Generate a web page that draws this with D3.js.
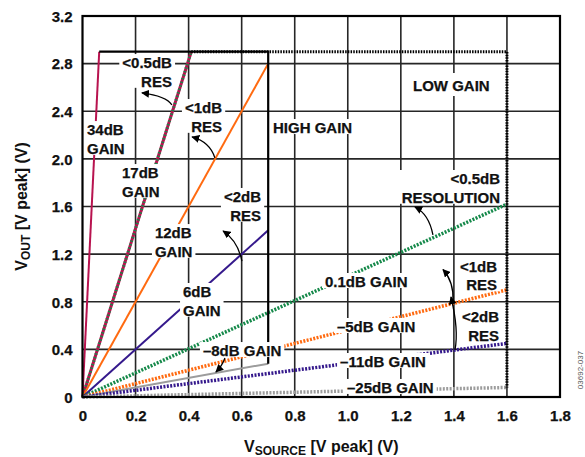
<!DOCTYPE html>
<html lang="en">
    <head>
        <meta charset="utf-8">
        <title>VOUT vs VSOURCE gain ranges</title>
        <script type="text/javascript" src="https://d3js.org/d3.v7.min.js"></script>
        <style type="text/css">
          body { margin: 0; background: #fff; }
          svg { width: 585px; height: 457px; font-family: "Liberation Sans", Arial, sans-serif; font-weight: bold; }
        </style>
    </head>
    <body>
      <svg></svg>

        <script type="text/javascript">

        // tick values
        const xTicks = [0, 0.2, 0.4, 0.6, 0.8, 1.0, 1.2, 1.4, 1.6, 1.8];
        const yTicks = [0, 0.4, 0.8, 1.2, 1.6, 2.0, 2.4, 2.8, 3.2];

        // gain lines: each goes from the origin to its end point
        const seriesNames = ["34dB", "17dB", "12dB", "6dB", "0.1dB", "-5dB", "-8dB", "-11dB", "-25dB"];
        const seriesEndX  = [0.063, 0.41, 0.70, 0.70, 1.60, 1.60, 0.70, 1.60, 1.60];
        const seriesEndY  = [2.90, 2.90, 2.80, 1.40, 1.62, 0.90, 0.28, 0.45, 0.08];

        // range boundaries
        const highGainX = [0.063, 0.70, 0.70];
        const highGainY = [2.90, 2.90, 0.28];
        const lowGainX  = [0.41, 1.60, 1.60];
        const lowGainY  = [2.90, 2.90, 0.08];

        const crimson = "#b8134f", orange = "#ff6a10", purple = "#35198c", green = "#15894a", grey = "#9c9c9c";
        const styles = [
          {color: crimson, w: 2},
          {color: crimson, w: 3, dots: green},
          {color: orange, w: 2},
          {color: purple, w: 2},
          {color: green, w: 3.5, dash: "2,1.4"},
          {color: orange, w: 3.5, dash: "2,1.4"},
          {color: grey, w: 2},
          {color: purple, w: 3.5, dash: "2,1.4"},
          {color: grey, w: 3.5, dash: "2,1.4"}
        ];

        // annotations (data coordinates of first baseline)
        const labels = [
          {lines: ["<0.5dB", "RES"], x: 0.337, y: 2.763, anchor: "end"},
          {lines: ["<1dB", "RES"], x: 0.526, y: 2.385, anchor: "end"},
          {lines: ["34dB", "GAIN"], x: 0.017, y: 2.200, anchor: "start"},
          {lines: ["17dB", "GAIN"], x: 0.149, y: 1.839, anchor: "start"},
          {lines: ["12dB", "GAIN"], x: 0.273, y: 1.335, anchor: "start"},
          {lines: ["<2dB", "RES"], x: 0.673, y: 1.638, anchor: "end"},
          {lines: ["6dB", "GAIN"], x: 0.379, y: 0.840, anchor: "start"},
          {lines: ["HIGH GAIN"], x: 0.718, y: 2.217, anchor: "start"},
          {lines: ["LOW GAIN"], x: 1.246, y: 2.570, anchor: "start", padY: 4},
          {lines: ["<0.5dB", "RESOLUTION"], x: 1.574, y: 1.789, anchor: "end"},
          {lines: ["0.1dB GAIN"], x: 0.914, y: 0.924, anchor: "start"},
          {lines: ["<1dB", "RES"], x: 1.563, y: 1.054, anchor: "end"},
          {lines: ["\u20135dB GAIN"], x: 0.959, y: 0.546, anchor: "start"},
          {lines: ["<2dB", "RES"], x: 1.570, y: 0.630, anchor: "end"},
          {lines: ["\u20138dB GAIN"], x: 0.454, y: 0.344, anchor: "start"},
          {lines: ["\u201311dB GAIN"], x: 0.971, y: 0.252, anchor: "start"},
          {lines: ["\u201325dB GAIN"], x: 0.997, y: 0.034, anchor: "start"}
        ];

        // arrows: tail, control, head
        const arrows = [
          [[0.337, 2.453], [0.315, 2.528], [0.224, 2.554]],
          [[0.499, 2.008], [0.480, 2.142], [0.413, 2.184]],
          [[0.601, 1.142], [0.586, 1.310], [0.530, 1.394]],
          [[1.321, 1.361], [1.306, 1.537], [1.253, 1.596]],
          [[1.397, 0.802], [1.400, 0.970], [1.359, 1.071]],
          [[1.404, 0.395], [1.419, 0.563], [1.389, 0.840]],
          [[0.537, 0.328], [0.526, 0.260], [0.503, 0.210]]
        ];

        const svg = d3.select("svg");
        const pLeft = 82.5, pRight = 560, pTop = 16, pBottom = 397;

        const x = d3.scaleLinear().domain([0, 1.8]).range([pLeft, pRight]);
        const y = d3.scaleLinear().domain([0, 3.2]).range([pBottom, pTop]);

        svg.append("defs").append("marker")
           .attr("id", "head")
           .attr("viewBox", "0 0 10 10")
           .attr("refX", 9).attr("refY", 5)
           .attr("markerWidth", 8).attr("markerHeight", 8)
           .attr("markerUnits", "userSpaceOnUse")
           .attr("orient", "auto")
           .append("path").attr("d", "M0,0 L10,5 L0,10 Z").attr("fill", "#000");

        // grid
        const grid = svg.append("g").attr("stroke", "#262626").attr("stroke-width", 1.6);
        grid.selectAll(".vx").data(xTicks.slice(1, -1)).enter().append("line")
            .attr("x1", d => x(d)).attr("x2", d => x(d))
            .attr("y1", pTop).attr("y2", pBottom);
        grid.selectAll(".hy").data(yTicks.slice(1, -1)).enter().append("line")
            .attr("y1", d => y(d)).attr("y2", d => y(d))
            .attr("x1", pLeft).attr("x2", pRight);

        // axes (labels only)
        const fmt = d => d === 0 ? "0" : d.toFixed(1);
        const xAxis = svg.append("g").attr("transform", `translate(0,${pBottom})`)
            .call(d3.axisBottom(x).tickValues(xTicks).tickFormat(fmt).tickSize(0));
        const yAxis = svg.append("g").attr("transform", `translate(${pLeft},0)`)
            .call(d3.axisLeft(y).tickValues(yTicks).tickFormat(fmt).tickSize(0));
        [xAxis, yAxis].forEach(a => {
          a.select(".domain").remove();
          a.selectAll("text").attr("font-family", "Liberation Sans, Arial, sans-serif")
           .attr("font-weight", "bold").attr("font-size", 15).attr("fill", "#111")
           .attr("stroke", "#111").attr("stroke-width", 0.25);
        });
        xAxis.selectAll("text").attr("y", 24).attr("dy", 0);
        yAxis.selectAll("text").attr("x", -10).attr("dy", "0.35em");

        // gain lines
        const line = d3.line().x(d => x(d[0])).y(d => y(d[1]));
        seriesNames.forEach((name, i) => {
          const pts = [[0, 0], [seriesEndX[i], seriesEndY[i]]];
          const s = styles[i];
          const p = svg.append("path").datum(pts).attr("d", line)
             .attr("fill", "none").attr("stroke", s.color).attr("stroke-width", s.w)
             .attr("class", "series s" + i);
          if (s.dash) p.attr("stroke-dasharray", s.dash);
          if (s.dots) {
            svg.append("path").datum(pts).attr("d", line)
               .attr("fill", "none").attr("stroke", s.dots).attr("stroke-width", s.w)
               .attr("stroke-dasharray", "1.3,2.4");
          }
        });

        // range boundaries
        const zip = (a, b) => a.map((v, i) => [v, b[i]]);
        svg.append("path").datum(zip(lowGainX, lowGainY)).attr("d", line)
           .attr("fill", "none").attr("stroke", "#000").attr("stroke-width", 3)
           .attr("stroke-dasharray", "1.5,1.2");
        svg.append("path").datum(zip(highGainX, highGainY)).attr("d", line)
           .attr("fill", "none").attr("stroke", "#000").attr("stroke-width", 2.2);

        // labels with white boxes
        labels.forEach(l => {
          const g = svg.append("g");
          const t = g.append("text")
             .attr("x", x(l.x)).attr("y", y(l.y))
             .attr("text-anchor", l.anchor)
             .attr("font-size", 15).attr("font-weight", "bold").attr("fill", "#111")
             .attr("stroke", "#111").attr("stroke-width", 0.25);
          l.lines.forEach((s, k) => {
            t.append("tspan").attr("x", x(l.x)).attr("dy", k === 0 ? 0 : 18.8).text(s);
          });
          const b = t.node().getBBox();
          const py = l.padY || 0;
          g.insert("rect", "text")
           .attr("x", b.x - 3).attr("y", b.y - py)
           .attr("width", b.width + 6).attr("height", b.height + 2 * py - 2)
           .attr("fill", "#fff");
        });

        // arrows
        arrows.forEach(a => {
          svg.append("path")
             .attr("d", `M${x(a[0][0])},${y(a[0][1])} Q${x(a[1][0])},${y(a[1][1])} ${x(a[2][0])},${y(a[2][1])}`)
             .attr("fill", "none").attr("stroke", "#000").attr("stroke-width", 1.3)
             .attr("marker-end", "url(#head)");
        });

        // frame
        svg.append("rect").attr("x", pLeft).attr("y", pTop)
           .attr("width", pRight - pLeft).attr("height", pBottom - pTop)
           .attr("fill", "none").attr("stroke", "#000").attr("stroke-width", 2.2);

        // axis titles
        const xt = svg.append("text").attr("x", (pLeft + pRight) / 2).attr("y", 452)
           .attr("text-anchor", "middle").attr("font-size", 16).attr("fill", "#111");
        xt.append("tspan").text("V");
        xt.append("tspan").attr("font-size", 12).attr("dy", 3).text("SOURCE");
        xt.append("tspan").attr("dy", -3).text(" [V peak] (V)");

        const yt = svg.append("text").attr("transform", `translate(27,${(pTop + pBottom) / 2}) rotate(-90)`)
           .attr("text-anchor", "middle").attr("font-size", 16).attr("fill", "#111");
        yt.append("tspan").text("V");
        yt.append("tspan").attr("font-size", 12).attr("dy", 3).text("OUT");
        yt.append("tspan").attr("dy", -3).text(" [V peak] (V)");

        svg.append("text").attr("transform", "translate(583,370) rotate(-90)")
           .attr("text-anchor", "middle").attr("font-size", 8).attr("font-weight", "normal")
           .attr("fill", "#555").text("03692-037");
    </script>
</body>
</html>
